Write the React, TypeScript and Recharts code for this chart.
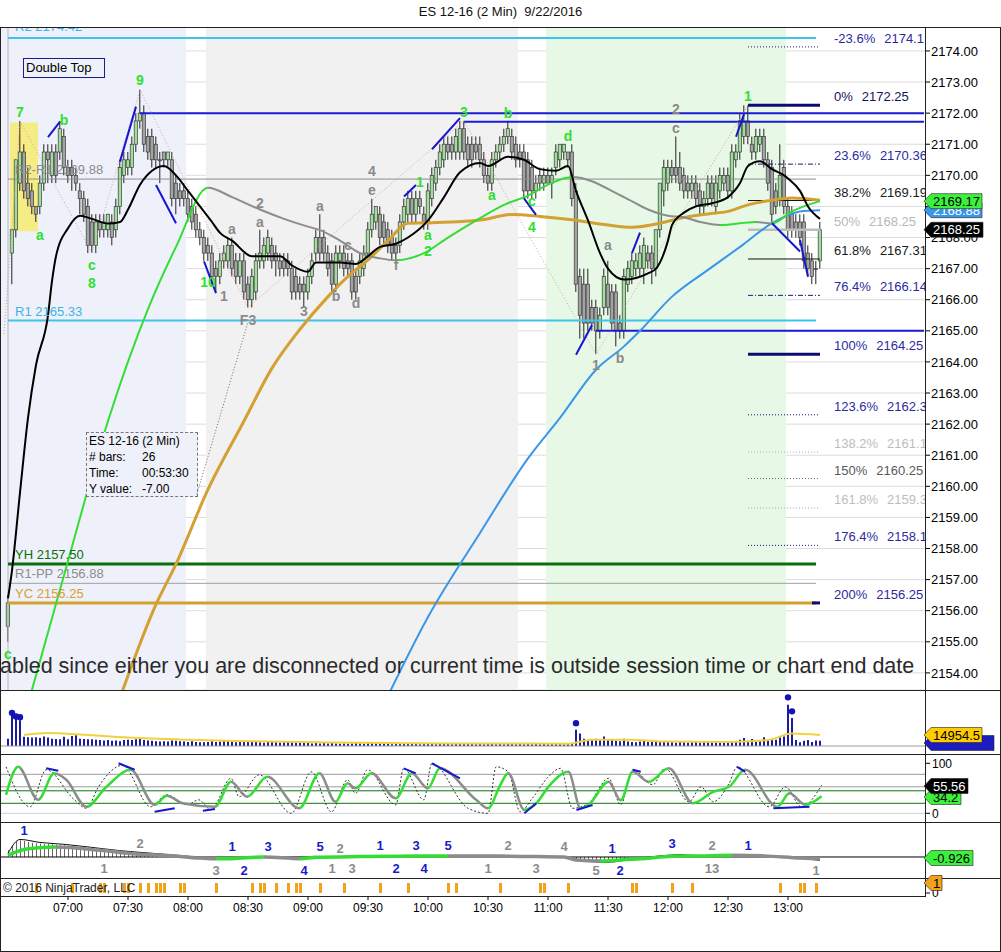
import React from "react";
import {
  ComposedChart,
  Bar,
  Line,
  Scatter,
  XAxis,
  YAxis,
  CartesianGrid,
  ReferenceLine,
  ReferenceArea,
  ReferenceDot,
} from "recharts";

const FONT = '"Liberation Sans", Arial, sans-serif';

// ---- price bars (2 min), bar i closes at 06:30 + 2*i ----
const opens = [
  2155.5, 2167.5, 2168.25, 2169.75, 2170.75, 2169.75, 2169.5, 2169.0, 2169.0, 2169.75,
  2170.75, 2170.0, 2170.75, 2170.75, 2171.25, 2170.25, 2170.25, 2170.0, 2169.5, 2169.25,
  2169.0, 2168.5, 2167.75, 2168.5, 2168.25, 2168.25, 2168.5, 2168.25, 2169.0, 2170.0,
  2170.25, 2170.25, 2171.0, 2171.75, 2172.0, 2171.25, 2171.25, 2171.0, 2170.5, 2170.75,
  2170.5, 2170.5, 2169.75, 2169.5, 2169.5, 2169.25, 2169.0, 2168.75, 2168.25, 2168.0,
  2167.75, 2167.5, 2167.0, 2166.75, 2167.25, 2167.25, 2167.75, 2167.25, 2166.75, 2167.25,
  2166.5, 2166.0, 2166.25, 2167.25, 2167.25, 2167.5, 2167.75, 2167.5, 2167.25, 2167.25,
  2167.25, 2167.0, 2166.75, 2166.5, 2166.5, 2166.25, 2166.75, 2167.5, 2168.0, 2168.0,
  2167.5, 2167.25, 2166.5, 2167.25, 2167.5, 2167.25, 2167.25, 2166.75, 2166.75, 2167.0,
  2167.5, 2168.25, 2168.5, 2168.75, 2168.5, 2168.25, 2168.0, 2167.75, 2167.75, 2168.5,
  2168.75, 2169.25, 2168.75, 2169.25, 2168.75, 2168.5, 2169.25, 2169.75, 2170.25, 2170.5,
  2171.0, 2171.0, 2170.75, 2170.75, 2171.5, 2171.0, 2171.0, 2171.0, 2171.0, 2170.5,
  2170.0, 2169.75, 2170.5, 2170.75, 2171.0, 2171.25, 2171.25, 2171.0, 2170.75, 2170.75,
  2170.5, 2170.25, 2169.5, 2170.0, 2169.75, 2170.0, 2169.75, 2170.25, 2170.5, 2170.75,
  2170.75, 2170.75, 2169.5, 2166.75, 2166.5, 2166.5, 2165.75, 2165.75, 2165.0, 2165.75,
  2166.5, 2166.25, 2166.25, 2165.25, 2165.0, 2166.5, 2166.75, 2167.0, 2167.0, 2167.0,
  2167.5, 2167.5, 2167.0, 2168.25, 2169.5, 2169.75, 2170.25, 2170.25, 2170.25, 2170.0,
  2169.75, 2169.5, 2169.75, 2169.5, 2169.0, 2169.25, 2169.75, 2169.0, 2169.5, 2169.75,
  2170.0, 2169.5, 2170.5, 2170.75, 2171.25, 2171.75, 2171.0, 2170.75, 2171.0, 2171.25,
  2170.5, 2170.25, 2169.5, 2169.25, 2170.25, 2169.0, 2168.75, 2168.5, 2168.5, 2168.5,
  2167.5, 2167.25, 2167.0, 2167.25,
];
const highs = [
  2156.5, 2168.25, 2170.5, 2171.75, 2171.0, 2170.25, 2169.75, 2169.0, 2170.0, 2171.0,
  2171.0, 2171.0, 2171.0, 2171.75, 2171.5, 2170.5, 2170.5, 2170.25, 2169.75, 2169.5,
  2169.25, 2168.75, 2168.75, 2168.75, 2168.75, 2168.75, 2168.75, 2169.25, 2170.5, 2170.75,
  2170.75, 2171.25, 2172.0, 2172.75, 2172.25, 2171.5, 2171.5, 2171.25, 2170.75, 2170.75,
  2170.75, 2170.75, 2170.0, 2169.75, 2169.75, 2169.5, 2169.25, 2169.0, 2168.5, 2168.25,
  2168.0, 2167.75, 2167.25, 2167.5, 2167.75, 2168.0, 2168.0, 2167.5, 2167.5, 2167.5,
  2166.75, 2167.0, 2167.5, 2168.25, 2168.0, 2168.25, 2168.0, 2167.75, 2167.5, 2167.5,
  2167.5, 2167.25, 2167.0, 2166.75, 2166.75, 2167.0, 2167.5, 2168.25, 2168.75, 2168.25,
  2167.75, 2167.5, 2167.75, 2167.75, 2167.75, 2167.5, 2167.5, 2167.0, 2167.5, 2167.75,
  2168.5, 2169.25, 2169.0, 2169.0, 2168.75, 2168.5, 2168.25, 2168.0, 2168.75, 2169.25,
  2169.5, 2169.5, 2169.5, 2169.5, 2169.0, 2169.75, 2170.25, 2170.5, 2171.0, 2171.25,
  2171.25, 2171.25, 2171.5, 2171.75, 2171.75, 2171.25, 2171.25, 2171.25, 2171.25, 2170.75,
  2170.25, 2170.75, 2171.0, 2171.25, 2171.5, 2171.75, 2171.5, 2171.25, 2171.0, 2171.0,
  2170.75, 2170.5, 2170.0, 2170.25, 2170.25, 2170.25, 2170.25, 2171.0, 2171.0, 2171.0,
  2170.75, 2171.0, 2169.75, 2167.0, 2167.0, 2167.0, 2166.0, 2166.0, 2165.75, 2167.0,
  2167.25, 2166.5, 2166.5, 2165.5, 2167.0, 2167.25, 2167.5, 2167.5, 2167.75, 2168.0,
  2167.75, 2167.75, 2168.25, 2169.75, 2170.5, 2170.5, 2170.5, 2171.25, 2170.75, 2170.25,
  2170.0, 2170.0, 2170.0, 2169.75, 2169.5, 2170.0, 2170.0, 2170.0, 2170.25, 2170.25,
  2170.25, 2171.0, 2171.0, 2172.0, 2172.25, 2172.25, 2171.25, 2171.5, 2171.5, 2171.5,
  2170.75, 2170.5, 2169.75, 2171.0, 2170.5, 2169.25, 2169.0, 2168.75, 2168.75, 2168.75,
  2167.75, 2167.5, 2167.25, 2168.5,
];
const lows = [
  2155.0, 2166.5, 2168.0, 2169.5, 2169.25, 2169.0, 2168.75, 2168.5, 2168.75, 2169.5,
  2169.75, 2169.75, 2169.75, 2170.5, 2170.0, 2169.75, 2169.5, 2169.5, 2168.75, 2168.5,
  2167.5, 2167.5, 2167.5, 2168.0, 2168.0, 2168.0, 2167.75, 2168.0, 2168.75, 2169.75,
  2170.0, 2170.0, 2170.75, 2171.5, 2170.75, 2170.5, 2170.25, 2170.25, 2169.75, 2170.25,
  2170.25, 2169.0, 2168.75, 2169.0, 2169.0, 2168.5, 2168.25, 2168.0, 2167.75, 2167.25,
  2167.25, 2166.5, 2166.25, 2166.5, 2167.0, 2167.0, 2166.75, 2166.5, 2166.5, 2166.0,
  2165.75, 2165.75, 2166.0, 2167.0, 2167.0, 2167.25, 2167.0, 2166.75, 2166.75, 2166.75,
  2166.75, 2166.0, 2166.0, 2166.0, 2165.75, 2166.0, 2166.5, 2167.25, 2167.25, 2167.25,
  2166.75, 2166.25, 2166.25, 2167.0, 2166.75, 2166.75, 2166.0, 2166.0, 2166.5, 2166.75,
  2167.25, 2168.0, 2168.25, 2167.75, 2167.75, 2167.5, 2167.25, 2167.25, 2167.5, 2168.25,
  2168.5, 2168.5, 2168.5, 2168.75, 2168.25, 2168.25, 2169.0, 2169.5, 2170.0, 2170.25,
  2170.5, 2170.5, 2170.5, 2170.5, 2170.5, 2170.25, 2170.25, 2170.5, 2170.25, 2169.75,
  2169.5, 2169.5, 2170.25, 2170.5, 2170.75, 2171.0, 2170.5, 2170.25, 2170.25, 2169.25,
  2169.25, 2169.25, 2169.25, 2169.5, 2169.5, 2169.75, 2169.25, 2170.0, 2170.25, 2170.5,
  2170.25, 2169.0, 2166.25, 2164.75, 2164.75, 2165.0, 2165.0, 2164.25, 2164.75, 2165.5,
  2165.5, 2165.0, 2164.5, 2164.75, 2164.75, 2166.25, 2166.5, 2166.75, 2166.75, 2166.5,
  2167.0, 2166.5, 2166.75, 2168.0, 2169.0, 2169.5, 2169.75, 2169.75, 2169.5, 2169.25,
  2169.25, 2169.25, 2169.0, 2168.75, 2168.75, 2169.0, 2169.0, 2168.75, 2169.25, 2169.5,
  2169.25, 2169.25, 2170.25, 2170.5, 2171.0, 2171.0, 2170.5, 2170.5, 2170.75, 2170.25,
  2169.5, 2168.5, 2168.75, 2169.0, 2168.75, 2168.0, 2168.0, 2168.0, 2167.75, 2167.0,
  2166.75, 2166.5, 2166.5, 2167.0,
];
const closes = [
  2156.25, 2168.25, 2170.5, 2170.75, 2169.5, 2169.25, 2169.0, 2168.75, 2169.75, 2170.75,
  2170.5, 2170.75, 2170.0, 2171.5, 2170.25, 2170.0, 2170.0, 2169.75, 2169.25, 2168.75,
  2167.75, 2167.75, 2168.5, 2168.25, 2168.5, 2168.75, 2168.0, 2169.0, 2170.25, 2170.5,
  2170.5, 2171.0, 2171.75, 2172.0, 2171.0, 2170.75, 2170.5, 2170.5, 2170.5, 2170.5,
  2170.75, 2169.25, 2169.25, 2169.25, 2169.25, 2168.75, 2168.5, 2168.25, 2168.0, 2167.5,
  2167.5, 2166.75, 2166.75, 2167.25, 2167.5, 2167.75, 2167.0, 2166.75, 2167.25, 2166.25,
  2166.0, 2166.75, 2167.25, 2167.5, 2167.75, 2168.0, 2167.25, 2167.25, 2167.0, 2167.0,
  2167.0, 2166.25, 2166.25, 2166.25, 2166.25, 2166.75, 2167.25, 2168.0, 2167.5, 2167.5,
  2167.0, 2166.5, 2167.5, 2167.5, 2167.0, 2167.0, 2166.25, 2166.25, 2167.25, 2167.5,
  2168.25, 2168.75, 2169.0, 2168.0, 2168.0, 2167.75, 2167.5, 2167.5, 2168.5, 2169.0,
  2169.25, 2168.75, 2169.25, 2169.0, 2168.5, 2169.5, 2170.0, 2170.25, 2170.75, 2171.0,
  2170.75, 2170.75, 2171.25, 2171.5, 2170.75, 2170.5, 2170.5, 2170.75, 2170.5, 2170.0,
  2169.75, 2170.5, 2170.75, 2171.0, 2171.25, 2171.5, 2170.75, 2170.5, 2170.5, 2169.5,
  2169.5, 2169.5, 2169.75, 2169.75, 2170.0, 2169.75, 2170.0, 2170.75, 2171.0, 2171.0,
  2170.5, 2169.25, 2166.5, 2165.5, 2165.25, 2165.25, 2165.25, 2165.0, 2165.5, 2166.75,
  2165.75, 2165.25, 2165.0, 2165.0, 2166.75, 2167.0, 2167.25, 2167.25, 2167.5, 2167.75,
  2167.25, 2167.0, 2168.25, 2169.75, 2170.25, 2170.25, 2170.0, 2170.0, 2169.75, 2169.5,
  2169.5, 2169.75, 2169.25, 2169.0, 2169.25, 2169.75, 2169.25, 2169.75, 2170.0, 2170.0,
  2169.5, 2170.75, 2170.75, 2171.75, 2171.75, 2171.25, 2170.75, 2171.25, 2171.25, 2170.5,
  2169.75, 2168.75, 2169.0, 2170.0, 2169.0, 2168.25, 2168.25, 2168.25, 2168.0, 2167.25,
  2167.0, 2166.75, 2167.0, 2168.25,
];
const volumes = [
  10000, 45000, 38000, 35000, 12500, 12000, 11500, 12000, 11000, 13000,
  11500, 10000, 9500, 9000, 12500, 9000, 13500, 14500, 10000, 9500,
  9000, 9000, 8500, 8000, 7500, 8000, 7000, 7500, 6500, 8000,
  8500, 8000, 9000, 9500, 8000, 7500, 7000, 6500, 6000, 6500,
  6000, 7500, 7000, 6500, 6000, 5500, 6500, 5500, 5000, 5000,
  5500, 6500, 5500, 6000, 7500, 6500, 6000, 5000, 5500, 6000,
  6500, 5500, 6000, 5000, 4500, 5500, 6000, 5000, 4500, 5000,
  5500, 5500, 4500, 4000, 4500, 4000, 3500, 4000, 3500, 4000,
  3500, 4000, 3500, 3000, 3500, 3000, 3500, 4000, 3500, 3000,
  4000, 4500, 3500, 3000, 3500, 3000, 2500, 3000, 3500, 3000,
  4000, 3500, 3000, 2500, 3000, 3500, 3000, 2500, 3000, 3500,
  3000, 2500, 3000, 3500, 4000, 3500, 3000, 2500, 3000, 2500,
  3000, 3000, 2500, 3000, 2500, 3500, 3000, 2500, 3000, 2500,
  3000, 2500, 3000, 2500, 3000, 2500, 3000, 3500, 3000, 2500,
  3000, 4000, 22000, 17000, 10000, 8000, 8500, 10000, 8500, 13000,
  9500, 8000, 7000, 6500, 10000, 6000, 5500, 5000, 6000, 7500,
  5500, 6000, 7000, 6500, 5500, 5000, 5000, 4500, 5500, 5000,
  4500, 5000, 5500, 4500, 6000, 5500, 4500, 5000, 4500, 5000,
  6500, 5500, 6000, 8500, 11000, 7000, 9500, 6500, 7000, 12000,
  9000, 10000, 8500, 12000, 13000, 56000, 38000, 8000, 5000, 7000,
  8000, 5500, 7500, 7000,
];
const volumeDots = [[1, 45000], [2, 40000], [3, 39000], [142, 31000], [195, 66000], [196, 47000]];
const volumeSma = [
  [4, 15000], [10, 17500], [18, 15500], [30, 11500], [45, 8500], [60, 6500], [80, 4800],
  [100, 3800], [120, 3300], [140, 3200], [146, 8500], [155, 8500], [165, 6000], [180, 5500],
  [190, 8000], [196, 17000], [203, 14954.5],
];

// ---- moving averages: [bar, price] ----
const fastMa = [
  [0, 2156.4], [1, 2157.3], [3, 2159.8], [5, 2162.2], [7, 2163.9], [10, 2165.5], [11, 2166.6],
  [12, 2167.4], [15, 2168.3], [18, 2168.7], [21, 2168.6], [25, 2168.45], [28, 2168.5],
  [30, 2168.9], [33, 2169.7], [36, 2170.15], [39, 2170.3], [42, 2170.0], [45, 2169.5],
  [48, 2169.0], [51, 2168.5], [53, 2168.15], [56, 2167.9], [61, 2167.4], [65, 2167.4],
  [68, 2167.4], [71, 2167.1], [75, 2166.9], [77, 2167.2], [80, 2167.2], [83, 2167.2],
  [87, 2167.15], [90, 2167.4], [93, 2167.7], [97, 2167.8], [100, 2168.0], [105, 2168.55],
  [109, 2169.3], [113, 2170.1], [118, 2170.4], [120, 2170.3], [125, 2170.6], [129, 2170.5],
  [133, 2170.2], [137, 2170.15], [140, 2170.3], [142, 2169.5], [145, 2168.55], [148, 2167.5],
  [150, 2167.0], [154, 2166.65], [157, 2166.7], [160, 2166.85], [162, 2167.0], [165, 2167.9],
  [166, 2168.4], [169, 2168.8], [172, 2169.0], [176, 2169.1], [180, 2169.3], [183, 2169.75],
  [185, 2170.3], [188, 2170.45], [191, 2170.2], [194, 2170.0], [195, 2169.9], [198, 2169.5],
  [200, 2169.0], [203, 2168.6],
];
const slopeMa = [
  [5, 2153.0], [15, 2157.6], [25, 2162.1], [35, 2165.7], [42, 2167.7], [50, 2169.6],
  [56, 2169.3], [63, 2168.9], [69, 2168.6], [75, 2168.35], [78, 2168.24], [83, 2167.9],
  [88, 2167.5], [93, 2167.33], [97, 2167.27], [104, 2167.5], [110, 2168.0], [119, 2168.7],
  [124, 2169.05], [130, 2169.35], [135, 2169.7], [141, 2169.95], [154, 2169.3], [160, 2168.9],
  [165, 2168.7], [169, 2168.65], [173, 2168.5], [178, 2168.4], [187, 2168.5], [191, 2168.45],
  [196, 2168.84], [203, 2169.17],
];
const goldMa = [
  [28, 2153.2], [37, 2156.2], [42, 2157.5], [50, 2159.9], [59, 2162.1], [66, 2163.8],
  [73, 2165.05], [80, 2166.1], [85, 2166.75], [90, 2167.28], [95, 2167.9], [100, 2168.46],
  [105, 2168.47], [118, 2168.56], [126, 2168.74], [133, 2168.68], [141, 2168.57],
  [150, 2168.4], [156, 2168.33], [163, 2168.46], [168, 2168.62], [175, 2168.76],
  [180, 2168.84], [185, 2169.05], [191, 2169.2], [196, 2169.27], [203, 2169.2],
];
const blueMa = [
  [94, 2153.0], [105, 2155.8], [118, 2158.5], [130, 2160.9], [138, 2162.2], [147, 2163.75],
  [154, 2164.5], [158, 2165.0], [166, 2166.1], [175, 2166.96], [183, 2167.7], [191, 2168.46],
  [198, 2168.84], [203, 2168.88],
];
const zigzag = [
  [-1, 2164.9], [3, 2171.75], [21, 2167.5], [33, 2172.75], [60, 2165.75], [114, 2171.75],
  [147, 2164.25], [185, 2172.25],
];

// ---- levels ----
const levelPrices = [2174.42, 2169.88, 2165.33, 2157.5, 2156.88, 2156.25, 2172.0, 2171.72, 2165.0];
const levelSpans = [[0, 202], [0, 202], [0, 202], [0, 202], [0, 202], [0, 202], [33, 229], [114, 229], [147, 229]];
const levelStyles = [
  { c: "#3cc4ee", w: 2 }, { c: "#8c8c8c", w: 1 }, { c: "#3cc4ee", w: 2 }, { c: "#0a6e0a", w: 3 },
  { c: "#a0a0a0", w: 1 }, { c: "#d4a030", w: 3 }, { c: "#1a1ad8", w: 2 }, { c: "#1a1ad8", w: 2 },
  { c: "#1a1ad8", w: 2 },
];
const levelNames = ["R2 2174.42", "R2-R1 2169.88", "R1 2165.33", "YH 2157.50", "R1-PP 2156.88", "YC 2156.25"];
const levelNameColors = ["#3fb3e3", "#8c8c8c", "#3fb3e3", "#0a6e0a", "#8c8c8c", "#d4a030"];

const fibPcts = ["-23.6%", "0%", "23.6%", "38.2%", "50%", "61.8%", "76.4%", "100%", "123.6%", "138.2%", "150%", "161.8%", "176.4%", "200%"];
const fibValues = ["2174.1", "2172.25", "2170.36", "2169.19", "2168.25", "2167.31", "2166.14", "2164.25", "2162.3", "2161.1", "2160.25", "2159.3", "2158.1", "2156.25"];
const fibPrices = [2174.13, 2172.25, 2170.36, 2169.19, 2168.25, 2167.31, 2166.14, 2164.25, 2162.3, 2161.1, 2160.25, 2159.3, 2158.1, 2156.25];
const fibTextColors = ["#2b2ba0", "#14145a", "#2b2ba0", "#1a1a1a", "#b8b8b8", "#1a1a1a", "#2b2ba0", "#2b2ba0", "#2b2ba0", "#bdbdbd", "#5a5a5a", "#bdbdbd", "#2b2ba0", "#2b2ba0"];
const fibLineStyles = [
  { c: "#1a1a80", w: 1, d: "1 2" }, { c: "#0c0c70", w: 3, d: "" }, { c: "#1a1a80", w: 1, d: "5 2 1 2" },
  { c: "#111", w: 1, d: "" }, { c: "#bdbdbd", w: 2.5, d: "" }, { c: "#111", w: 1, d: "" },
  { c: "#1a1a80", w: 1, d: "5 2 1 2" }, { c: "#0c0c70", w: 3, d: "" }, { c: "#1a1a80", w: 1, d: "1 2" },
  { c: "#aaa", w: 1, d: "1 2" }, { c: "#666", w: 1, d: "1 2" }, { c: "#aaa", w: 1, d: "1 2" },
  { c: "#1a1a80", w: 1, d: "1 2" }, null,
];

// short blue trend lines [bar1, price1, bar2, price2]
const trendLines = [
  [10, 2171.23, 13, 2171.73], [28, 2170.44, 32, 2172.21], [37, 2169.69, 42, 2168.46],
  [49, 2167.23, 52, 2166.21], [99, 2169.32, 102, 2169.69], [106, 2170.84, 113, 2171.84],
  [129, 2169.26, 132, 2168.73], [142, 2164.23, 146, 2165.19], [156, 2167.5, 158, 2168.16],
  [182, 2171.24, 184, 2171.97], [191, 2168.46, 198, 2167.55], [198, 2167.92, 200, 2166.74],
];

// wave labels [bar, price, text]
const greenLabels = [
  [3, 2172.04, "7"], [14, 2171.78, "b"], [8, 2168.08, "a"], [21, 2167.12, "c"], [21, 2166.54, "8"],
  [33, 2173.07, "9"], [50, 2166.57, "10"], [103, 2169.79, "1"], [105, 2168.08, "a"], [105, 2167.57, "2"],
  [114, 2172.04, "3"], [125, 2172.0, "b"], [121, 2169.37, "a"], [131, 2169.18, "c"], [131, 2168.34, "4"],
  [140, 2171.27, "d"], [185, 2172.55, "1"], [0, 2154.6, "c"],
];
const grayLabels = [
  [54, 2166.12, "1"], [60, 2165.35, "F3"], [56, 2168.28, "a"], [63, 2169.11, "2"], [63, 2168.5, "a"],
  [78, 2169.02, "a"], [74, 2165.64, "3"], [82, 2166.12, "b"], [87, 2165.9, "d"], [85, 2167.76, "c"],
  [91, 2170.14, "4"], [91, 2169.53, "e"], [97, 2167.12, "f"], [167, 2172.13, "2"], [167, 2171.52, "c"],
  [150, 2167.76, "a"], [147, 2163.9, "1"], [153, 2164.13, "b"],
];

// ---- stochastics ----
const stochD = [
  [0, 37], [3, 93], [8, 27], [12, 80], [15, 67], [20, 13], [25, 53], [31, 87], [37, 17], [40, 35],
  [44, 20], [52, 13], [56, 63], [60, 33], [65, 73], [73, 10], [78, 80], [82, 23], [85, 60], [87, 50],
  [91, 80], [97, 30], [101, 80], [105, 50], [108, 90], [117, 27], [120, 10], [123, 56], [125, 80],
  [129, 7], [132, 20], [135, 53], [140, 83], [143, 10], [145, 17], [150, 63], [153, 26], [156, 83],
  [160, 63], [165, 90], [171, 20], [176, 43], [180, 53], [184, 87], [192, 13], [195, 40], [199, 17],
  [203, 34],
];
const stochK = [
  [0, 93], [6, 13], [10, 87], [17, 27], [20, 10], [23, 53], [29, 96], [36, 13], [40, 37], [45, 17],
  [48, 27], [51, 7], [56, 70], [58, 33], [63, 77], [71, 0], [76, 83], [81, 3], [85, 67], [87, 40],
  [90, 87], [97, 17], [99, 90], [104, 27], [106, 100], [115, 10], [120, 0], [122, 93], [125, 83],
  [128, 3], [131, 30], [135, 73], [138, 90], [141, 10], [145, 20], [150, 70], [153, 17], [156, 87],
  [161, 57], [164, 90], [170, 23], [173, 53], [176, 23], [180, 60], [182, 93], [190, 13], [194, 53],
  [198, 13], [203, 56],
];
const stochLevels = [78, 53, 45, 20, 0];
const stochLevelColors = ["#9a9a9a", "#9a9a9a", "#0a7a0a", "#0a7a0a", "#cfcfcf"];
const stochTrend = [
  [10, 90, 13, 85], [28, 100, 32, 87], [37, 3, 42, 10], [49, 5, 52, 8.5], [99, 90, 102, 80],
  [106, 100, 113, 70], [129, 0, 132, 20], [142, 6.6, 146, 16.6], [156, 87, 158, 83], [182, 93, 184, 83],
  [191, 10, 200, 13],
];

// ---- oscillator (bottom) ----
const macdLine = [
  [0, 0.5], [5, 2.2], [12, 2.7], [23, 1.8], [31, 0.9], [40, 0.4], [48, -0.3], [52, -0.5], [56, -0.45],
  [64, 0.0], [73, -0.45], [77, -0.1], [88, 0.1], [98, 0.2], [110, 0.3], [123, 0.25], [132, 0.1],
  [139, 0.0], [142, -0.8], [148, -1.1], [153, -0.8], [158, -0.5], [166, 0.2], [173, 0.3], [181, 0.45],
  [189, 0.3], [198, -0.3], [203, -0.5],
];
const macdSignal = [
  [0, 1.0], [3, 4.7], [8, 3.9], [14, 3.4], [20, 2.7], [28, 1.7], [36, 1.0], [44, 0.3], [50, -0.2],
  [60, -0.2], [70, -0.1], [90, 0.0], [110, 0.2], [130, 0.1], [140, -0.1], [145, -1.2], [150, -1.4],
  [156, -0.6], [163, 0.3], [168, 0.6], [174, 0.3], [185, 0.3], [195, -0.1], [203, -0.9],
];
const histStartA = 0;
const histA = [
  1.8, 3.0, 4.2, 4.5, 4.3, 4.0, 3.8, 3.7, 3.6, 3.5, 3.5, 3.4, 3.3, 3.3, 3.2, 3.1, 3.0, 2.9, 2.8, 2.7,
  2.6, 2.5, 2.4, 2.2, 2.1, 2.0, 1.9, 1.9, 1.8, 1.6, 1.4, 1.3, 1.2, 1.1, 1.0, 1.0, 0.9, 0.9, 0.8,
];
const histStartB = 142;
const histB = [-0.3, -0.6, -0.9, -1.1, -1.3, -1.4, -1.4, -1.3, -1.1, -0.9, -0.7, -0.5, -0.3, -0.2, -0.1];
const histStartC = 163;
const histC = [0.2, 0.4, 0.6, 0.7, 0.8, 0.8, 0.7, 0.6, 0.4, 0.2];
const oscLabels = [
  [4, 7.0, "1", "b"], [33, 3.75, "2", "g"], [24, -2.95, "1", "g"], [52, -3.5, "3", "g"], [56, 2.7, "1", "b"],
  [59, -3.5, "2", "b"], [65, 2.7, "3", "b"], [74, -3.5, "4", "b"], [78, 2.7, "5", "b"], [83, 2.4, "2", "g"],
  [81, -2.95, "1", "g"], [86, -2.95, "3", "g"], [93, 2.95, "1", "b"], [97, -2.95, "2", "b"], [102, 2.95, "3", "b"],
  [104, -2.95, "4", "b"], [110, 3.2, "5", "b"], [120, -2.95, "1", "g"], [125, 2.95, "2", "g"], [132, -3.2, "3", "g"],
  [139, 2.7, "4", "g"], [147, -3.75, "5", "g"], [151, 2.4, "1", "b"], [153, -3.75, "2", "b"], [166, 3.5, "3", "b"],
  [176, 2.95, "2", "g"], [176, -2.95, "13", "g"], [185, 3.2, "1", "b"], [202, -3.5, "1", "g"],
];

// ---- signal markers ----
const markerBars = [
  7, 16, 23, 24, 29, 30, 33, 35, 37, 38, 39, 43, 44, 52, 61, 63, 64, 67, 70, 72, 73, 78, 84, 93, 100,
  110, 112, 123, 133, 134, 140, 156, 157, 166, 171, 193, 198, 199, 202,
];

const priceTicks = [2154, 2155, 2156, 2157, 2158, 2159, 2160, 2161, 2162, 2163, 2164, 2165, 2166, 2167, 2168, 2169, 2170, 2171, 2172, 2173, 2174];
const timeTicks = ["07:00", "07:30", "08:00", "08:30", "09:00", "09:30", "10:00", "10:30", "11:00", "11:30", "12:00", "12:30", "13:00"];

// ---- layout ----
const FIRST = -2;
const LAST = 229;
const PLOT_W = 928;
const AX_W = 77;
const CH_W = PLOT_W + AX_W;
const P_MIN = 2153.45;
const P_MAX = 2174.77;
const MAIN_TOP = 27;
const MAIN_H = 663;
const yPrice = (p: number) => MAIN_TOP + ((P_MAX - p) / (P_MAX - P_MIN)) * MAIN_H;

const timeOf = (i: number) => {
  const m = 390 + 2 * i;
  return `${String(Math.floor(m / 60)).padStart(2, "0")}:${String(m % 60).padStart(2, "0")}`;
};

const rows: any[] = [];
for (let i = FIRST; i <= LAST; i++) {
  const r: any = { t: timeOf(i) };
  if (i >= 0 && i < opens.length) {
    r.o = opens[i];
    r.h = highs[i];
    r.l = lows[i];
    r.c = closes[i];
    r.range = [lows[i], highs[i]];
    r.vol = volumes[i];
  }
  rows.push(r);
}
const put = (key: string, pts: any[]) => pts.forEach(([i, v]) => (rows[i - FIRST][key] = v));
put("fast", fastMa);
put("slope", slopeMa);
put("gold", goldMa);
put("blue", blueMa);
put("zig", zigzag);
put("vsma", volumeSma);
put("vdot", volumeDots);
put("k", stochK);
put("d", stochD);
put("macd", macdLine);
put("sig", macdSignal);
histA.forEach((v, n) => (rows[histStartA + n - FIRST].hist = v));
histB.forEach((v, n) => (rows[histStartB + n - FIRST].hist = v));
histC.forEach((v, n) => (rows[histStartC + n - FIRST].hist = v));
markerBars.forEach((i) => (rows[i - FIRST].mark = 1));

const xFrac = (i: number) => (4 * (i - FIRST) + 2) / PLOT_W;

function slopeGradient(id: string, pts: any[], up: string, down: string) {
  const stops: any[] = [];
  for (let n = 0; n < pts.length - 1; n++) {
    const col = pts[n + 1][1] >= pts[n][1] ? up : down;
    stops.push(<stop key={n + "a"} offset={xFrac(pts[n][0])} stopColor={col} />);
    stops.push(<stop key={n + "b"} offset={xFrac(pts[n + 1][0])} stopColor={col} />);
  }
  return (
    <linearGradient id={id} gradientUnits="userSpaceOnUse" x1={0} y1={0} x2={PLOT_W} y2={0}>
      {stops}
    </linearGradient>
  );
}

const renderCandle = (props: any) => {
  const { x, y, width, height, payload } = props;
  if (!payload || payload.o == null) return <g />;
  const { o, h, l, c } = payload;
  const top = Math.min(y, y + height);
  const hh = Math.abs(height);
  const k = h > l ? hh / (h - l) : 0;
  const cx = x + width / 2;
  const yO = top + (h - o) * k;
  const yC = top + (h - c) * k;
  const bodyTop = Math.min(yO, yC);
  const bodyH = Math.max(Math.abs(yO - yC), 1);
  return (
    <g>
      <line x1={cx} x2={cx} y1={top} y2={top + hh} stroke="#222" strokeWidth={1} />
      <rect x={cx - 1.6} y={bodyTop} width={3.2} height={bodyH} fill={c > o ? "#9ee09a" : "#a3a3a3"} stroke="#3a3a3a" strokeWidth={0.7} />
    </g>
  );
};

const textDot = (txt: string, color: string, size: number) => (p: any) => (
  <text x={p.cx} y={p.cy} textAnchor="middle" dominantBaseline="central" fill={color} fontSize={size} fontWeight="bold" fontFamily={FONT}>
    {txt}
  </text>
);

const axisTick = { fontSize: 12, fill: "#000", fontFamily: FONT };
const priceTick = { fontSize: 13, fill: "#000", fontFamily: FONT };

function Tag({ y, w, fill, text, color }: any) {
  const h = 15;
  return (
    <g>
      <polygon points={`924,${y} 931,${y - h / 2} ${924 + w},${y - h / 2} ${924 + w},${y + h / 2} 931,${y + h / 2}`} fill={fill} stroke="#222" strokeWidth={0.6} />
      <text x={933} y={y + 4.5} fontSize={13} fill={color} fontFamily={FONT}>
        {text}
      </text>
    </g>
  );
}

export default function App() {
  const box: any = { position: "absolute", left: -2 };
  return (
    <div style={{ position: "fixed", left: 0, top: 0, width: 1001, height: 952, overflow: "hidden", background: "#fff", fontFamily: FONT }}>
      <div style={{ position: "absolute", left: 0, top: 4, width: 1001, textAlign: "center", fontSize: 13, color: "#111" }}>
        ES 12-16 (2 Min)&nbsp;&nbsp;9/22/2016
      </div>

      {/* price panel */}
      <div style={{ ...box, top: MAIN_TOP }}>
        <ComposedChart width={CH_W} height={MAIN_H} data={rows} margin={{ top: 0, right: 0, bottom: 0, left: 0 }} barCategoryGap={0} barGap={0}>
          <defs>{slopeGradient("gSlope", slopeMa, "#33dd33", "#8c8c8c")}</defs>
          <XAxis dataKey="t" hide />
          <YAxis
            orientation="right"
            width={AX_W}
            type="number"
            domain={[P_MIN, P_MAX]}
            allowDataOverflow
            ticks={priceTicks}
            interval={0}
            tick={priceTick}
            tickSize={4}
            tickMargin={1}
            axisLine={false}
            tickLine={{ stroke: "#000" }}
            tickFormatter={(v: number) => v.toFixed(2)}
          />
          <ReferenceArea x1={timeOf(-2)} x2={timeOf(44)} fill="#eef1fa" fillOpacity={1} stroke="none" />
          <ReferenceArea x1={timeOf(50)} x2={timeOf(127)} fill="#f1f1f1" fillOpacity={1} stroke="none" />
          <ReferenceArea x1={timeOf(135)} x2={timeOf(194)} fill="#e7f8e7" fillOpacity={1} stroke="none" />
          <CartesianGrid vertical={false} stroke="#dcdcdc" />
          <ReferenceArea x1={timeOf(1)} x2={timeOf(7)} y1={2168.2} y2={2171.7} fill="#f6ec86" fillOpacity={1} stroke="none" />
          <ReferenceLine x={timeOf(0)} stroke="#b5b5b5" />
          {levelPrices.map((p, n) => (
            <ReferenceLine
              key={"lv" + n}
              segment={[{ x: timeOf(levelSpans[n][0]), y: p }, { x: timeOf(levelSpans[n][1]), y: p }]}
              stroke={levelStyles[n].c}
              strokeWidth={levelStyles[n].w}
            />
          ))}
          {fibPrices.map((p, n) =>
            fibLineStyles[n] ? (
              <ReferenceLine
                key={"fb" + n}
                segment={[{ x: timeOf(185), y: p }, { x: timeOf(203), y: p }]}
                stroke={fibLineStyles[n]!.c}
                strokeWidth={fibLineStyles[n]!.w}
                strokeDasharray={fibLineStyles[n]!.d}
              />
            ) : null
          )}
          <ReferenceLine segment={[{ x: timeOf(201), y: 2156.25 }, { x: timeOf(203), y: 2156.25 }]} stroke="#0c0c70" strokeWidth={3} />
          <Line dataKey="zig" connectNulls dot={false} stroke="#d9a0a0" strokeWidth={1} strokeDasharray="1 2" isAnimationActive={false} />
          <Bar dataKey="range" barSize={4} shape={renderCandle} isAnimationActive={false} />
          <Line dataKey="blue" type="monotone" connectNulls dot={false} stroke="#3a96ea" strokeWidth={2} isAnimationActive={false} />
          <Line dataKey="gold" type="monotone" connectNulls dot={false} stroke="#d3a034" strokeWidth={3} isAnimationActive={false} />
          <Line dataKey="slope" type="monotone" connectNulls dot={false} stroke="url(#gSlope)" strokeWidth={2} isAnimationActive={false} />
          <Line dataKey="fast" type="monotone" connectNulls dot={false} stroke="#000" strokeWidth={2} isAnimationActive={false} />
          {trendLines.map((s, n) => (
            <ReferenceLine key={"tl" + n} segment={[{ x: timeOf(s[0]), y: s[1] }, { x: timeOf(s[2]), y: s[3] }]} stroke="#1616d0" strokeWidth={2} />
          ))}
          {greenLabels.map((g: any, n) => (
            <ReferenceDot key={"gl" + n} x={timeOf(g[0])} y={g[1]} shape={textDot(g[2], "#2fe02f", 14)} />
          ))}
          {grayLabels.map((g: any, n) => (
            <ReferenceDot key={"yl" + n} x={timeOf(g[0])} y={g[1]} shape={textDot(g[2], "#8a8a8a", 14)} />
          ))}
        </ComposedChart>
      </div>

      {/* volume panel */}
      <div style={{ ...box, top: 690 }}>
        <ComposedChart width={CH_W} height={64} data={rows} margin={{ top: 0, right: 0, bottom: 8, left: 0 }} barCategoryGap={0} barGap={0}>
          <XAxis dataKey="t" hide />
          <YAxis orientation="right" width={AX_W} type="number" domain={[0, 76000]} allowDataOverflow tick={false} axisLine={false} tickLine={false} />
          <ReferenceLine y={0} stroke="#9a9a9a" />
          <Bar dataKey="vol" barSize={2} fill="#1c1ca0" isAnimationActive={false} />
          <Line dataKey="vsma" type="monotone" connectNulls dot={false} stroke="#f2d23a" strokeWidth={2} isAnimationActive={false} />
          <Scatter
            dataKey="vdot"
            isAnimationActive={false}
            shape={(p: any) => (p.payload && p.payload.vdot != null ? <circle cx={p.cx} cy={p.cy} r={3.2} fill="#1414b4" /> : <g />)}
          />
        </ComposedChart>
      </div>

      {/* stochastics panel */}
      <div style={{ ...box, top: 754 }}>
        <ComposedChart width={CH_W} height={68} data={rows} margin={{ top: 0, right: 0, bottom: 0, left: 0 }}>
          <defs>{slopeGradient("gStoch", stochD, "#33dd33", "#8c8c8c")}</defs>
          <XAxis dataKey="t" hide />
          <YAxis
            orientation="right"
            width={AX_W}
            type="number"
            domain={[-17.4, 118.6]}
            allowDataOverflow
            ticks={[0, 100]}
            interval={0}
            tick={axisTick}
            tickSize={4}
            tickMargin={2}
            axisLine={false}
            tickLine={{ stroke: "#000" }}
          />
          {stochLevels.map((v, n) => (
            <ReferenceLine key={"sl" + n} y={v} stroke={stochLevelColors[n]} />
          ))}
          <Line dataKey="k" type="monotone" connectNulls dot={false} stroke="#333" strokeWidth={1} strokeDasharray="2 2" isAnimationActive={false} />
          <Line dataKey="d" type="monotone" connectNulls dot={false} stroke="url(#gStoch)" strokeWidth={2.5} isAnimationActive={false} />
          {stochTrend.map((s, n) => (
            <ReferenceLine key={"st" + n} segment={[{ x: timeOf(s[0]), y: s[1] }, { x: timeOf(s[2]), y: s[3] }]} stroke="#1616d0" strokeWidth={2} ifOverflow="visible" />
          ))}
        </ComposedChart>
      </div>

      {/* oscillator panel */}
      <div style={{ ...box, top: 822 }}>
        <ComposedChart width={CH_W} height={56} data={rows} margin={{ top: 0, right: 0, bottom: 0, left: 0 }} barCategoryGap={0} barGap={0}>
          <defs>{slopeGradient("gMacd", macdLine, "#33dd33", "#8c8c8c")}</defs>
          <XAxis dataKey="t" hide />
          <YAxis orientation="right" width={AX_W} type="number" domain={[-5.63, 9.38]} allowDataOverflow tick={false} axisLine={false} tickLine={false} />
          <Bar dataKey="hist" barSize={1} fill="#666" isAnimationActive={false} />
          <ReferenceLine y={0} stroke="#000" />
          <Line dataKey="sig" type="monotone" connectNulls dot={false} stroke="#111" strokeWidth={1} isAnimationActive={false} />
          <Line dataKey="macd" type="monotone" connectNulls dot={false} stroke="url(#gMacd)" strokeWidth={3.5} isAnimationActive={false} />
          {oscLabels.map((g: any, n) => (
            <ReferenceDot key={"ol" + n} x={timeOf(g[0])} y={g[1]} shape={textDot(g[2], g[3] === "b" ? "#1a1ac8" : "#8c8c8c", 13)} />
          ))}
        </ComposedChart>
      </div>

      {/* marker panel + time axis */}
      <div style={{ ...box, top: 878 }}>
        <ComposedChart width={CH_W} height={50} data={rows} margin={{ top: 0, right: 0, bottom: 0, left: 0 }} barCategoryGap={0} barGap={0}>
          <XAxis
            dataKey="t"
            ticks={timeTicks}
            interval={0}
            height={32}
            tick={axisTick}
            tickSize={4}
            tickMargin={3}
            axisLine={false}
            tickLine={{ stroke: "#000" }}
          />
          <YAxis
            orientation="right"
            width={AX_W}
            type="number"
            domain={[-0.3, 1.5]}
            allowDataOverflow
            ticks={[0]}
            interval={0}
            tick={axisTick}
            tickSize={4}
            tickMargin={2}
            axisLine={false}
            tickLine={{ stroke: "#000" }}
          />
          <Bar dataKey="mark" barSize={3} fill="#f2a21a" isAnimationActive={false} />
        </ComposedChart>
      </div>

      {/* main panel texts */}
      <div style={{ position: "absolute", left: 0, top: MAIN_TOP, width: 925, height: MAIN_H, overflow: "hidden", pointerEvents: "none" }}>
        {levelNames.map((s, n) => (
          <div key={"ln" + n} style={{ position: "absolute", left: 15, top: yPrice(levelPrices[n]) - MAIN_TOP - (n === 0 ? 19 : 17), fontSize: 13, lineHeight: "15px", color: levelNameColors[n], whiteSpace: "nowrap" }}>
            {s}
          </div>
        ))}
        {fibPcts.map((s, n) => (
          <div key={"fl" + n} style={{ position: "absolute", left: 834, top: yPrice(fibPrices[n]) - MAIN_TOP - 16, fontSize: 13, lineHeight: "15px", color: fibTextColors[n], whiteSpace: "nowrap" }}>
            <span>{s}</span>
            <span style={{ marginLeft: 9 }}>{fibValues[n]}</span>
          </div>
        ))}
        <div style={{ position: "absolute", left: 23, top: 31, width: 78, height: 18, border: "1px solid #1c1c8c", fontSize: 13, lineHeight: "18px", paddingLeft: 2, color: "#000" }}>
          Double Top
        </div>
        <div style={{ position: "absolute", left: 86, top: 405, width: 108, height: 63, border: "1px dashed #777", background: "#eef1fa", fontSize: 12, lineHeight: "16px", color: "#000", paddingLeft: 2 }}>
          <div>ES 12-16 (2 Min)</div>
          <div style={{ display: "flex" }}><span style={{ width: 53 }}># bars:</span><span>26</span></div>
          <div style={{ display: "flex" }}><span style={{ width: 53 }}>Time:</span><span>00:53:30</span></div>
          <div style={{ display: "flex" }}><span style={{ width: 53 }}>Y value:</span><span>-7.00</span></div>
        </div>
        <svg width={925} height={MAIN_H} style={{ position: "absolute", left: 0, top: 0 }}>
          <line x1={196} y1={470} x2={248} y2={295} stroke="#666" strokeWidth={1} strokeDasharray="1 2" />
        </svg>
        <div style={{ position: "absolute", left: 0, top: 626, fontSize: 21.5, lineHeight: "26px", color: "#2a2a2a", whiteSpace: "nowrap" }}>
          abled since either you are disconnected or current time is outside session time or chart end date
        </div>
      </div>

      <div style={{ position: "absolute", left: 3, top: 881, fontSize: 12, lineHeight: "14px", color: "#222", whiteSpace: "nowrap" }}>
        © 2016 NinjaTrader, LLC
      </div>

      {/* frame and separators */}
      <div style={{ position: "absolute", left: 0, top: MAIN_TOP, width: 999, height: 923, border: "1px solid #222", pointerEvents: "none" }} />
      {[690, 754, 822, 878].map((y) => (
        <div key={"sep" + y} style={{ position: "absolute", left: 0, top: y, width: 1001, height: 1, background: "#222" }} />
      ))}
      <div style={{ position: "absolute", left: 0, top: 896, width: 926, height: 1, background: "#222" }} />
      <div style={{ position: "absolute", left: 925, top: MAIN_TOP, width: 1, height: 869, background: "#222" }} />

      {/* value tags */}
      <svg width={1001} height={952} style={{ position: "absolute", left: 0, top: 0, pointerEvents: "none" }}>
        <Tag y={yPrice(2168.88)} w={58} fill="#3a96ea" text="2168.88" color="#fff" />
        <Tag y={yPrice(2169.17)} w={58} fill="#3ef03e" text="2169.17" color="#000" />
        <Tag y={yPrice(2168.25)} w={59} fill="#000" text="2168.25" color="#fff" />
        <Tag y={743} w={70} fill="#1c1cc0" text="" color="#fff" />
        <Tag y={735} w={58} fill="#ffcc00" text="14954.5" color="#000" />
        <Tag y={797} w={37} fill="#3ef03e" text="34.2" color="#000" />
        <Tag y={786} w={44} fill="#000" text="55.56" color="#fff" />
        <Tag y={858} w={49} fill="#3ef03e" text="-0.926" color="#000" />
        <Tag y={883} w={18} fill="#f2a21a" text="1" color="#000" />
      </svg>
    </div>
  );
}
